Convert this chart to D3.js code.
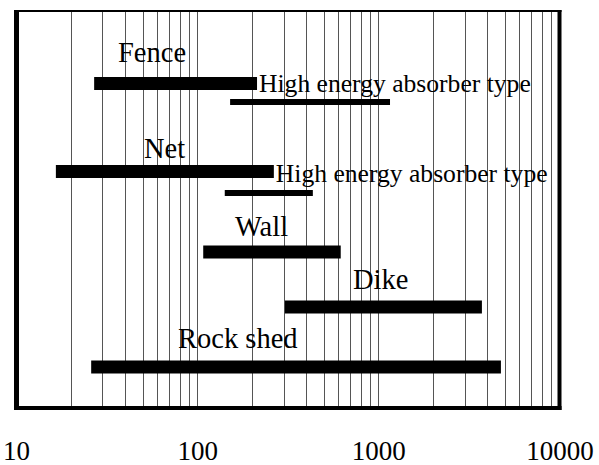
<!DOCTYPE html>
<html>
<head>
<meta charset="utf-8">
<script src="https://cdn.jsdelivr.net/npm/d3@7"></script>
<style>
  body { margin: 0; background: #fff; }
</style>
</head>
<body>
<div id="chart"></div>
<script>
// ranges of applicable energy (kJ) per countermeasure
const names = ['Fence', 'Fence HEA', 'Net', 'Net HEA', 'Wall', 'Dike', 'Rock shed'];
const lows = [27, 152, 16.6, 142, 108, 305, 26];
const highs = [214, 1160, 265, 435, 620, 3730, 4750];
const labels = ['Fence', 'High energy absorber type', 'Net', 'High energy absorber type', 'Wall', 'Dike', 'Rock shed'];
const tickValues = [10, 100, 1000, 10000];

const width = 599, height = 465;
const plotLeft = 16, plotRight = 559.5, plotTop = 11, plotBottom = 408;
const serif = '"Liberation Serif", "Times New Roman", serif';

const svg = d3.select('#chart').append('svg')
  .attr('width', width)
  .attr('height', height);

const x = d3.scaleLog().domain([10, 10000]).range([plotLeft, plotRight]);

// row layout: bar centre, thickness, label placement
const layout = [
  { y: 83.5, h: 13, lx: 118, ly: 62, size: 28.5 },
  { y: 102, h: 6, lx: null, ly: 92, size: 25.6 },
  { y: 171.5, h: 13, lx: 144, ly: 158, size: 28.5 },
  { y: 193, h: 6, lx: null, ly: 182, size: 25.6 },
  { y: 252, h: 13, lx: 235, ly: 236, size: 28.5 },
  { y: 307, h: 13, lx: 353, ly: 289, size: 28.5 },
  { y: 367, h: 13, lx: 178, ly: 348, size: 28.5 }
];

// minor gridlines
const grid = [];
for (let d = 10; d < 10000; d *= 10) {
  for (let k = 1; k <= 9; k++) grid.push(d * k);
}

svg.append('g')
  .selectAll('line')
  .data(grid.filter(v => v > 10 && v < 10000))
  .join('line')
  .attr('x1', d => Math.round(x(d)) + 0.5)
  .attr('x2', d => Math.round(x(d)) + 0.5)
  .attr('y1', plotTop)
  .attr('y2', plotBottom)
  .attr('stroke', '#555')
  .attr('stroke-width', 1);

// bars
const rows = names.map((n, i) => ({ name: n, lo: lows[i], hi: highs[i], label: labels[i], ...layout[i] }));

svg.append('g')
  .selectAll('rect')
  .data(rows)
  .join('rect')
  .attr('x', d => x(d.lo))
  .attr('width', d => x(d.hi) - x(d.lo))
  .attr('y', d => d.y - d.h / 2)
  .attr('height', d => d.h)
  .attr('fill', '#000');

// labels: HEA labels follow the end of the bar above them
svg.append('g')
  .selectAll('text')
  .data(rows)
  .join('text')
  .attr('x', (d, i) => d.lx != null ? d.lx : x(rows[i - 1].hi) + 2)
  .attr('y', d => d.ly)
  .attr('font-size', d => d.size)
  .style('font-family', serif)
  .attr('fill', '#000')
  .text(d => d.label);

// frame
svg.append('line').attr('x1', 14).attr('x2', plotRight + 2).attr('y1', plotTop).attr('y2', plotTop)
  .attr('stroke', '#000').attr('stroke-width', 2);
svg.append('line').attr('x1', 16.5).attr('x2', 16.5).attr('y1', 10).attr('y2', 410)
  .attr('stroke', '#000').attr('stroke-width', 5);
svg.append('line').attr('x1', 559.5).attr('x2', 559.5).attr('y1', 10).attr('y2', 410)
  .attr('stroke', '#000').attr('stroke-width', 4);
svg.append('line').attr('x1', 14).attr('x2', 561.5).attr('y1', 408).attr('y2', 408)
  .attr('stroke', '#000').attr('stroke-width', 4);

// x axis labels
const axis = d3.axisBottom(x)
  .tickValues(tickValues)
  .tickFormat(d3.format('d'))
  .tickSize(0)
  .tickPadding(0);

const gAxis = svg.append('g')
  .attr('transform', `translate(0,${plotBottom})`)
  .call(axis);
gAxis.select('.domain').remove();
gAxis.selectAll('text')
  .attr('font-size', 27)
  .style('font-family', serif)
  .attr('fill', '#000')
  .attr('dy', null)
  .attr('y', 52);
</script>
</body>
</html>
